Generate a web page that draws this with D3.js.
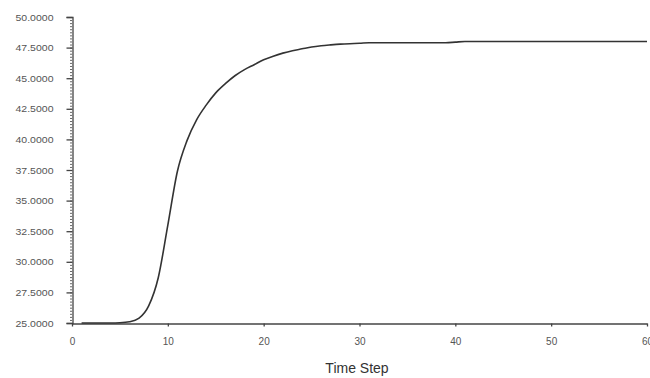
<!DOCTYPE html>
<html><head><meta charset="utf-8">
<script src="https://cdn.jsdelivr.net/npm/d3@7"></script>
<style>body{margin:0;background:#fff}svg{display:block}</style>
</head><body>
<script>
const timeSteps = [1,2,3,4,5,6,7,8,9,10,11,12,13,14,15,16,17,18,19,20,21,22,23,24,25,26,27,28,29,30,31,32,33,34,35,36,37,38,39,40,41,42,43,44,45,46,47,48,49,50,51,52,53,54,55,56,57,58,59,60];
const values = [25.0,25.0,25.0,25.0,25.02,25.1,25.4,26.4,28.7,33.0,37.4,39.9,41.6,42.8,43.8,44.55,45.2,45.7,46.1,46.5,46.8,47.05,47.25,47.4,47.55,47.65,47.72,47.78,47.82,47.85,47.9,47.9,47.9,47.9,47.9,47.9,47.9,47.9,47.9,47.95,48.0,48.0,48.0,48.0,48.0,48.0,48.0,48.0,48.0,48.0,48.0,48.0,48.0,48.0,48.0,48.0,48.0,48.0,48.0,48.0];
const yTicks = [25,27.5,30,32.5,35,37.5,40,42.5,45,47.5,50];
const xTicks = [0,10,20,30,40,50,60];
const xLabel = "Time Step";

const W=650,H=378;
const font="Liberation Sans, Arial, sans-serif";
const svg=d3.select("body").append("svg").attr("width",W).attr("height",H);
const x=d3.scaleLinear().domain([0,60]).range([72,647]);
const y=d3.scaleLinear().domain([25,50]).range([323,17]);

// minor y ticks
const minor=d3.range(25,50.001,0.25);
svg.append("g").selectAll("line").data(minor).join("line")
 .attr("x1",70).attr("x2",72).attr("y1",d=>y(d)+0.5).attr("y2",d=>y(d)+0.5)
 .attr("stroke","#666").attr("stroke-width",1);

const yAxis=svg.append("g").attr("transform","translate(72.5,0)")
 .call(d3.axisLeft(y).tickValues(yTicks).tickFormat(d3.format(".4f")).tickSize(6).tickPadding(13));
yAxis.select(".domain").attr("stroke","#444").attr("stroke-width",1.3);
yAxis.selectAll(".tick line").attr("stroke","#444").attr("stroke-width",1.3);
yAxis.selectAll("text").attr("font-family",font).attr("font-size",9.5).attr("fill","#555").attr("textLength",38).attr("lengthAdjust","spacingAndGlyphs");

const xAxis=svg.append("g").attr("transform","translate(0,323.5)")
 .call(d3.axisBottom(x).tickValues(xTicks).tickSize(3).tickPadding(11).tickSizeOuter(0));
xAxis.select(".domain").attr("stroke","#444").attr("stroke-width",1.3);
xAxis.selectAll(".tick line").attr("stroke","#444").attr("stroke-width",1.3);
xAxis.selectAll("text").attr("font-family",font).attr("font-size",10).attr("fill","#555");

svg.append("text").attr("x",357).attr("y",373).attr("text-anchor","middle")
 .attr("font-family",font).attr("font-size",14).attr("fill","#333").text(xLabel);

const data=timeSteps.map((t,i)=>({t,v:values[i]}));
svg.append("path").datum(data)
 .attr("d",d3.line().x(d=>x(d.t)).y(d=>y(d.v)).curve(d3.curveMonotoneX))
 .attr("fill","none").attr("stroke","#333").attr("stroke-width",1.6);
</script>
</body></html>
